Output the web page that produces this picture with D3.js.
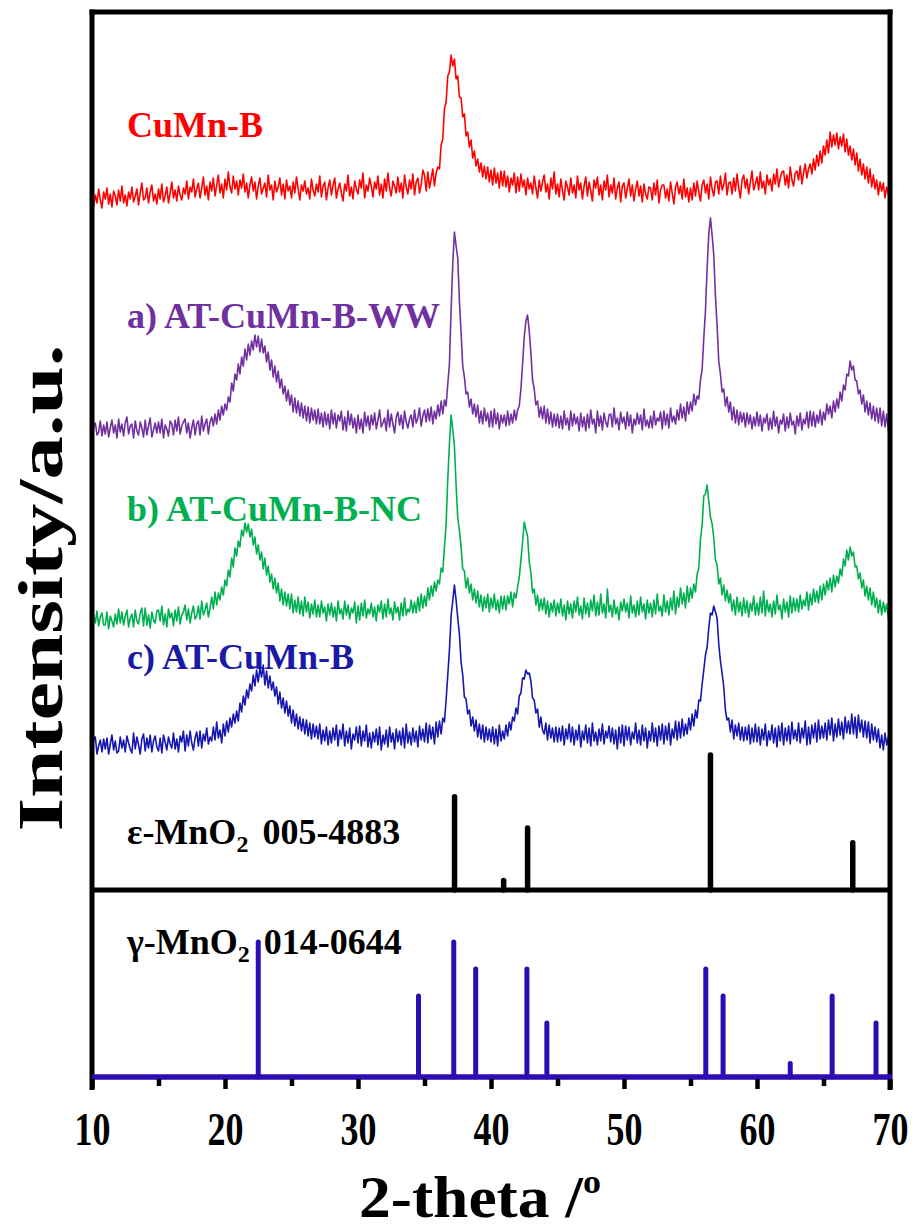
<!DOCTYPE html>
<html><head><meta charset="utf-8">
<script src="https://cdn.jsdelivr.net/npm/d3@7/dist/d3.min.js"></script>
<style>body{margin:0;background:#fff}svg{display:block}</style>
</head><body><svg id="chart" width="918" height="1230"></svg>
<script>
// ---- data ----
const angleStart = 10, angleStep = 0.125;
const seriesNames = ["CuMn-B", "a) AT-CuMn-B-WW", "b) AT-CuMn-B-NC", "c) AT-CuMn-B"];
const seriesColors = ["#ff0000", "#7030a0", "#00b050", "#1616b0"];
const labelColors = ["#ff0000", "#7030a0", "#00b050", "#1a1aa8"];
const seriesOffsets = [693, 458, 268, 142];
const cuMnB = [
 4,-9,2,-6,8,-3,-11,5, -2,9,-7,3,-10,6,1,-8, 7,-4,11,-6,2,-9,5,-2, 10,-5,1,8,-8,4,14,-3, -1,9,-6,5,12,-4,3,-7,
 8,-2,13,-5,1,10,-6,4, 15,-1,7,-4,11,2,-3,9, 3,16,-2,10,5,18,0,8, 14,-1,9,20,2,11,-3,15, 6,19,1,12,22,4,13,-1,
 18,7,25,10,4,21,8,16, 2,17,9,23,5,14,-1,12, 20,6,15,-2,11,19,3,9, 14,0,22,7,12,-3,16,5, 10,19,2,13,-2,17,6,11,
 -1,15,4,20,8,-3,12,6, 16,3,9,-2,18,7,1,13, 5,21,0,11,15,-3,9,17, 2,12,19,-1,8,14,4,-4, 13,6,22,1,10,-2,16,8,
 3,17,9,24,-1,12,6,19, 11,0,15,8,21,2,13,-1, 18,6,24,9,1,16,11,4, 20,5,14,-1,22,10,3,17, 8,23,2,15,19,4,12,27,
 22,6,25,9,18,28,11,24, 30,28,52,58,88,95,121,125, 142,131,138,118,121,100,99,80, 83,61,65,50,57,39,46,31, 38,25,34,20,31,18,30,15,
 27,12,29,14,24,9,26,11, 26,10,21,5,19,12,24,4, 20,6,23,10,17,2,19,8, 14,3,21,9,-1,17,6,15, 22,5,13,-2,19,8,25,3,
 13,0,18,6,-3,16,10,2, 19,4,12,-1,21,7,14,-2, 11,20,1,15,6,-4,17,9, 20,2,12,-3,16,7,22,0, 12,4,19,-2,9,15,-5,11,
 14,-1,9,18,1,12,-4,8, 16,1,11,-5,13,3,-2,10, 9,-3,14,2,17,-6,7,12, 12,-1,8,-4,15,4,-7,10, 15,3,11,-2,18,0,9,-5,
 9,-3,14,1,16,5,-4,12, 17,4,13,-2,20,8,1,15, 16,3,21,7,12,24,2,14, 15,3,19,6,23,9,-1,17, 22,9,18,3,15,26,7,13,
 20,7,25,9,16,3,22,12, 18,6,23,13,28,10,19,25, 26,12,22,9,30,17,11,24, 26,17,31,13,24,33,19,28, 33,23,38,27,42,31,46,34,
 51,42,57,44,65,50,62,52, 64,48,60,51,63,45,58,42, 51,37,48,32,44,26,38,22, 33,18,30,14,28,10,22,8, 17,2,15,6,14,-1,10,3, 0];
const atWW = [
 -6,5,9,-3,0,11,-4,7, -2,10,-5,4,12,-1,7,-6, 13,0,8,-4,9,15,-2,6, 8,-6,11,1,-3,10,4,-5, 12,-3,6,14,-5,2,9,-1,
 10,-1,13,-6,7,3,-4,11, 8,-3,12,1,15,-2,6,10, 13,-1,9,-6,4,12,-3,8, 11,-3,16,1,8,13,-2,10, 15,6,18,8,22,12,26,17,
 28,22,35,30,49,41,58,52, 68,58,75,66,83,72,88,77, 91,82,97,85,96,80,93,79, 86,70,80,62,72,55,66,50, 61,44,53,38,46,31,42,27,
 37,20,34,19,31,16,29,14, 26,11,25,9,24,12,22,8, 23,8,19,5,20,7,18,3, 22,8,19,4,17,11,21,2, 15,1,21,7,18,4,14,-1,
 17,3,13,-1,20,6,16,2, 17,7,19,3,12,22,5,9, 14,1,22,5,18,8,-1,15, 20,7,17,3,21,10,4,13, 17,5,22,9,14,24,6,16,
 22,10,23,11,25,8,21,13, 27,16,31,18,32,26,48,68, 122,168,200,186,174,131,99,66, 55,38,40,25,33,18,28,15, 27,9,21,8,24,11,19,5,
 21,5,23,8,19,3,17,9, 17,6,21,7,18,9,22,12, 22,26,43,68,95,111,117,101, 79,52,43,27,31,15,25,13, 26,9,23,8,20,5,18,6,
 18,4,16,3,21,7,14,2, 21,6,18,8,15,1,19,5, 15,1,18,4,22,8,13,-1, 21,6,16,2,19,10,5,17, 18,5,24,8,14,2,20,9,
 15,3,20,6,17,-1,13,7, 19,8,17,2,23,6,12,4, 16,4,21,7,14,11,20,3, 21,7,18,4,24,10,16,8, 22,12,28,14,25,11,30,18,
 30,21,38,27,36,33,52,63, 94,121,164,198,214,197,177,136, 106,71,58,40,43,26,35,20, 30,12,25,9,22,7,20,10, 19,5,19,8,17,3,15,6,
 20,6,17,1,14,9,18,2, 14,3,21,6,15,-1,12,8, 18,1,15,4,19,7,11,-2, 16,6,19,2,13,8,20,4, 21,6,20,5,17,9,22,7,
 20,12,28,18,26,14,31,20, 33,24,40,31,47,42,58,56, 71,62,66,52,51,38,42,28, 37,20,31,17,29,13,26,11, 24,9,24,6,21,5,18,2, -10];
const atNC = [
 -6,7,-1,11,-4,5,9,-3, -3,10,-7,6,1,-5,8,-2, 13,-1,10,-3,6,12,-5,4, 8,-5,12,1,-2,9,14,-4, 14,-3,7,-6,10,2,-1,11,
 12,1,16,-3,8,-5,13,4, 9,-4,12,1,15,-2,7,10, 17,2,13,-1,9,16,3,6, 16,3,21,7,12,19,5,14, 25,13,30,17,29,22,35,27,
 42,36,52,45,64,55,74,66, 81,75,92,86,99,90,98,85, 93,77,85,68,77,62,70,53, 64,47,56,40,48,33,44,29, 39,21,33,17,30,16,28,13,
 28,9,22,10,25,8,21,6, 25,10,20,4,18,8,22,5, 17,5,21,9,15,1,18,7, 19,5,15,1,21,8,13,3, 21,7,17,3,14,9,20,-1,
 16,2,19,6,22,4,13,8, 19,5,15,1,17,10,21,3, 18,5,23,8,14,2,20,9, 15,2,19,6,24,7,13,10, 22,9,20,9,25,11,28,14,
 26,16,34,22,36,26,40,31, 42,38,54,50,75,98,143,178, 207,192,176,137,104,92,75,53, 51,34,44,29,38,22,33,19, 31,15,27,11,25,14,28,10,
 24,14,28,12,22,9,26,13, 26,12,26,18,30,15,29,24, 35,45,62,80,100,92,86,60, 49,29,33,17,27,11,23,12, 24,8,21,5,19,10,22,6,
 19,9,23,6,17,2,21,8, 18,4,21,10,25,7,16,3, 24,8,19,5,22,11,27,6, 20,7,28,9,18,4,33,10, 17,5,22,8,15,2,20,11,
 23,10,19,4,26,9,17,5, 21,7,25,10,18,3,22,9, 19,5,22,8,28,11,16,6, 27,10,21,7,24,12,31,8, 25,15,34,18,29,14,36,20,
 34,24,38,30,48,54,83,97, 126,128,137,121,105,98,84,62, 57,38,44,27,37,21,32,19, 28,11,22,7,25,10,20,6, 24,9,21,5,19,11,26,7,
 19,7,25,9,31,6,22,10, 18,5,21,8,27,12,17,3, 23,10,20,5,26,9,24,11, 23,10,27,13,22,16,30,12, 28,17,33,20,31,19,36,22,
 38,27,41,32,44,30,47,35, 46,39,53,46,63,56,72,62, 75,66,70,55,56,43,49,34, 42,26,36,22,34,17,30,15, 24,9,22,7,20,10,18,4, -6];
const atB = [
 -3,8,11,-6,2,8,-4,9, -1,10,-6,4,13,-2,7,-5, -3,11,0,8,-4,12,5,-1, -5,15,-1,11,3,-6,9,14, -3,10,0,13,-4,7,12,1,
 -3,10,-5,13,6,-2,11,4, 0,15,-1,9,-4,12,6,17, -3,13,2,17,5,-2,10,16, 2,17,0,14,7,20,4,11, 7,21,8,26,10,18,5,24,
 12,27,16,30,21,34,25,37, 27,45,36,52,43,58,50,64, 57,73,62,78,66,80,71,83, 63,77,60,72,58,66,52,61, 44,56,40,50,35,47,32,42,
 25,38,22,34,19,31,17,29, 14,28,12,25,9,24,11,22, 9,24,4,18,7,21,3,17, 5,20,8,23,2,18,9,24, 2,17,5,20,-1,14,8,21,
 5,22,2,17,7,23,1,15, 0,16,6,19,3,21,-2,13, 4,18,1,21,6,15,-1,19, 6,17,3,20,0,24,5,16, 3,20,6,17,1,22,8,19,
 6,25,5,23,9,21,4,26, 11,27,14,30,26,48,73,98, 132,147,163,148,130,114,86,73, 51,49,34,38,22,31,17,28, 11,24,9,23,6,21,8,19,
 6,21,4,19,2,23,7,17, 9,23,12,26,18,31,27,40, 34,52,55,70,69,78,74,75, 67,50,48,35,39,21,31,18, 14,25,8,23,10,20,6,21,
 6,20,7,22,3,19,9,24, 6,21,3,18,8,23,1,17, 8,23,5,20,2,25,7,16, 3,19,7,24,4,17,10,22, 6,20,4,18,-1,21,5,23,
 2,22,8,21,3,16,9,25, 5,18,3,23,7,20,0,17, 7,25,6,20,2,22,8,24, 4,22,8,25,3,19,10,27, 8,26,10,29,12,24,14,30,
 18,34,22,38,30,48,47,64, 78,93,101,120,135,133,142,136, 130,104,87,75,61,38,28,30, 16,28,9,23,12,25,8,21, 7,21,8,23,4,20,6,24,
 6,21,3,19,8,24,2,17, 8,23,5,20,1,22,7,25, 3,20,7,22,4,26,9,18, 7,25,5,20,10,27,3,21, 4,23,10,25,6,28,9,22,
 10,25,8,28,13,30,7,24, 11,29,13,26,9,31,15,27, 14,34,14,31,10,33,16,28, 11,27,10,26,5,24,8,21, 6,19,0,13,-2,15,3,11, -2];
const seriesValues = [cuMnB, atWW, atNC, atB];

const epsLabel = "ε-MnO", epsCard = "005-4883";
const epsAngles = [37.26, 40.95, 42.75, 56.5, 67.2];
const epsIntensity = [69, 7, 46, 100, 35];
const gamLabel = "γ-MnO", gamCard = "014-0644";
const gamAngles = [22.5, 34.55, 37.2, 38.85, 42.7, 44.2, 56.15, 57.45, 62.5, 65.65, 68.95];
const gamIntensity = [100, 60, 100, 80, 80, 40, 80, 60, 10, 60, 40];

const majorTicks = [10, 20, 30, 40, 50, 60, 70];
const minorTicks = [15, 25, 35, 45, 55, 65];
const xTitle = "2-theta /", xTitleSup = "o";
const yTitle = "Intensity/a.u.";

// ---- drawing ----
const svg = d3.select("#chart");
const FONT = "'Liberation Serif','Times New Roman',serif";
const L = 92, R = 890, T = 12, SEP = 890, B = 1077;
const x = d3.scaleLinear().domain([10, 70]).range([L, R]);
const yUp = d3.scaleLinear().domain([0, 878]).range([SEP, T]);
const yEps = d3.scaleLinear().domain([0, 100]).range([SEP, 755]);
const yGam = d3.scaleLinear().domain([0, 100]).range([B, 942]);
const gamColor = "#2e0cb4";

svg.append("defs").append("clipPath").attr("id", "clip")
  .append("rect").attr("x", L).attr("y", T).attr("width", R - L).attr("height", SEP - T);

const gTraces = svg.append("g").attr("clip-path", "url(#clip)");
seriesValues.forEach((vals, i) => {
  const pts = vals.map((v, k) => [angleStart + k * angleStep, v + seriesOffsets[i]]);
  gTraces.append("path").datum(pts)
    .attr("fill", "none").attr("stroke", seriesColors[i]).attr("stroke-width", 1.6)
    .attr("stroke-linejoin", "round")
    .attr("d", d3.line().x(d => x(d[0])).y(d => yUp(d[1])));
});

// series labels
const labelY = [137, 328, 521, 669];
seriesNames.forEach((n, i) => {
  svg.append("text").attr("x", 127).attr("y", labelY[i]).attr("fill", labelColors[i])
    .attr("font-family", FONT).attr("font-weight", "bold").attr("font-size", 36).text(n);
});

// reference labels
function refLabel(y, main, card) {
  const t = svg.append("text").attr("x", 127).attr("y", y).attr("fill", "#000")
    .attr("font-family", FONT).attr("font-weight", "bold").attr("font-size", 36);
  t.append("tspan").text(main);
  t.append("tspan").attr("font-size", 24).attr("dy", 8).text("2");
  t.append("tspan").attr("dy", -8).attr("dx", 14).text(card);
}
refLabel(844, epsLabel, epsCard);
refLabel(954, gamLabel, gamCard);

// eps bars
svg.append("g").selectAll("line").data(epsAngles).join("line")
  .attr("x1", d => x(d)).attr("x2", d => x(d))
  .attr("y1", yEps(0)).attr("y2", (d, i) => yEps(epsIntensity[i]))
  .attr("stroke", "#000").attr("stroke-width", 5.5).attr("stroke-linecap", "round");

// gamma bars
svg.append("g").selectAll("line").data(gamAngles).join("line")
  .attr("x1", d => x(d)).attr("x2", d => x(d))
  .attr("y1", yGam(0)).attr("y2", (d, i) => yGam(gamIntensity[i]))
  .attr("stroke", gamColor).attr("stroke-width", 5).attr("stroke-linecap", "round");

// frame
const frame = svg.append("g").attr("stroke", "#000").attr("stroke-width", 5);
frame.append("line").attr("x1", L - 2.5).attr("x2", R + 2.5).attr("y1", T).attr("y2", T);
frame.append("line").attr("x1", L).attr("x2", L).attr("y1", T - 2.5).attr("y2", 1090);
frame.append("line").attr("x1", R).attr("x2", R).attr("y1", T - 2.5).attr("y2", 1090);
frame.append("line").attr("x1", L).attr("x2", R).attr("y1", SEP).attr("y2", SEP);
svg.append("line").attr("x1", L).attr("x2", R + 2).attr("y1", B).attr("y2", B)
  .attr("stroke", gamColor).attr("stroke-width", 5.5);

// ticks
const axis = d3.axisBottom(x).tickValues(majorTicks).tickSize(10).tickPadding(16).tickFormat(d3.format("d"));
const ga = svg.append("g").attr("transform", `translate(0,${B + 2})`).call(axis);
ga.select(".domain").remove();
ga.selectAll(".tick line").attr("stroke", "#000").attr("stroke-width", 4.5);
ga.selectAll(".tick text").attr("font-family", FONT).attr("font-weight", "bold")
  .attr("font-size", 46).attr("fill", "#000").attr("textLength", 36).attr("lengthAdjust", "spacingAndGlyphs")
  .attr("dy", null).attr("y", 66);
const gm = svg.append("g").attr("transform", `translate(0,${B + 2})`)
  .call(d3.axisBottom(x).tickValues(minorTicks).tickSize(7).tickFormat(""));
gm.select(".domain").remove();
gm.selectAll(".tick line").attr("stroke", "#000").attr("stroke-width", 4.5);

// axis titles
const xt = svg.append("text").attr("x", 480).attr("y", 1217).attr("text-anchor", "middle")
  .attr("font-family", FONT).attr("font-weight", "bold").attr("font-size", 60)
  .attr("textLength", 242).attr("lengthAdjust", "spacingAndGlyphs");
xt.append("tspan").text(xTitle);
xt.append("tspan").attr("font-size", 34).attr("dy", -24).text(xTitleSup);

svg.append("text").attr("transform", "translate(62,588) rotate(-90)").attr("text-anchor", "middle")
  .attr("font-family", FONT).attr("font-weight", "bold").attr("font-size", 64)
  .attr("textLength", 487).attr("lengthAdjust", "spacingAndGlyphs").text(yTitle);
</script></body></html>
